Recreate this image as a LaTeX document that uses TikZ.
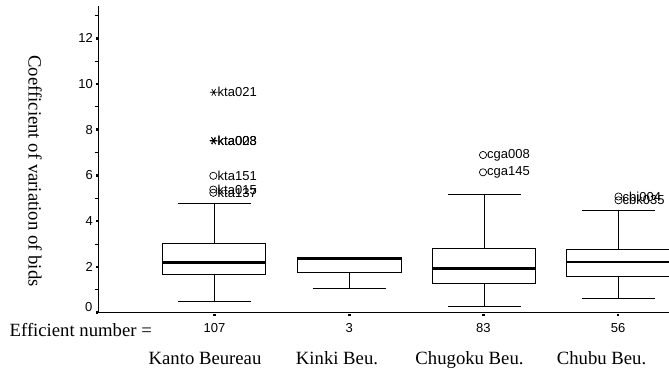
\documentclass[tikz,border=0pt]{standalone}
\usepackage{fontspec}
\setmainfont{Liberation Serif}
\newfontfamily\arialf{Liberation Sans}
\begin{document}
\begin{tikzpicture}[x=1pt,y=-1pt,
  sanslab/.style={font=\arialf\fontsize{13}{15}\selectfont, inner sep=0pt},
  seriflab/.style={font=\fontsize{18.7}{22}\selectfont, inner sep=0pt},
  boxline/.style={draw=black, line width=0.8pt},
  medline/.style={line width=2.8pt},
  axisline/.style={line width=1.3pt},
  outc/.style={line width=0.7pt}]
\useasboundingbox (0,0) rectangle (669,369);
% axes
\draw[axisline] (98.3,6) -- (98.3,312.8) -- (669,312.8);
\foreach \v in {0,2,...,12}{
  \pgfmathsetmacro\yy{312.5-22.85*\v}
  \fill (95.6,\yy-1.3) rectangle (98.3,\yy+1.3);
}
\foreach \v in {1,3,...,13}{
  \pgfmathsetmacro\yy{312.5-22.85*\v}
  \draw[line width=0.8pt] (94.5,\yy) -- (98.3,\yy);
}
\foreach \v/\n in {2/t2,4/t4,6/t6,8/t8,10/t10,12/t12}{
  \pgfmathsetmacro\yy{312.5-22.85*\v}
  \node[sanslab, anchor=east] (\n) at (93,\yy) {\v};
}
\node[sanslab, anchor=east] (t0) at (92.5,307) {0};
% category ticks
\foreach \cx in {214.5,349.3,483.5,618.2}{
  \fill (\cx-1.2,313.5) rectangle (\cx+1.2,316.3);
}
% y label
\node[seriflab, rotate=-90] (ylab) at (35,171) {Coefficient of variation of bids};
% boxes: center, q1, q3, median, upper cap, lower cap
\foreach \c/\qa/\qb/\md/\up/\lo in {214/274.7/243.3/262.3/203.7/301.7,
                                    349.2/272.7/257.3/258.2/257.3/288.3,
                                    484/283.3/248.3/268.2/194.3/306,
                                    618.3/276.7/249.3/262/210.7/298}{
  \draw[boxline] (\c,\up) -- (\c,\qb);
  \draw[boxline] (\c,\qa) -- (\c,\lo);
  \draw[boxline] (\c-36.5,\up) -- (\c+36.5,\up);
  \draw[boxline] (\c-36.5,\lo) -- (\c+36.5,\lo);
  \draw[boxline, fill=white] (\c-51.7,\qb) rectangle (\c+51.7,\qa);
  \draw[medline] (\c-51.7,\md) -- (\c+51.7,\md);
}
% star outliers
\foreach \sx/\sy in {213.7/92.3, 213.3/140.4, 213.9/141.0}{
  \draw[outc] (\sx-3.8,\sy) -- (\sx+3.8,\sy)
              (\sx-1.9,\sy-3.3) -- (\sx+1.9,\sy+3.3)
              (\sx+1.9,\sy-3.3) -- (\sx-1.9,\sy+3.3);
}
% circle outliers
\foreach \sx/\sy in {213.3/175.8, 213.3/189.5, 213.3/192.8, 483/155, 483/172.3, 618.5/196.5, 618.5/200.3}{
  \draw[outc] (\sx,\sy) circle (3.6);
}
\node[sanslab, anchor=west] (o1) at (217.5,92.3) {kta021};
\node[sanslab, anchor=west] (o2) at (217.5,140.4) {kta028};
\node[sanslab, anchor=west] (o3) at (217.5,140.9) {kta003};
\node[sanslab, anchor=west] (o4) at (217.5,175.8) {kta151};
\node[sanslab, anchor=west] (o5) at (217.5,189.5) {kta015};
\node[sanslab, anchor=west] (o6) at (217.5,192.8) {kta137};
\node[sanslab, anchor=west] (o7) at (487,155) {cga008};
\node[sanslab, anchor=west] (o8) at (487,172.3) {cga145};
\node[sanslab, anchor=west] (o9) at (622.5,196.5) {cbi004};
\node[sanslab, anchor=west] (o10) at (622.5,200.3) {cbk035};
% efficient numbers
\node[seriflab, anchor=base west] (eff) at (9.5,336) {Efficient number =};
\node[sanslab, anchor=base] (n1) at (214.5,332) {107};
\node[sanslab, anchor=base] (n2) at (349.3,332) {3};
\node[sanslab, anchor=base] (n3) at (483.3,332) {83};
\node[sanslab, anchor=base] (n4) at (618,332) {56};
% category names
\node[seriflab, anchor=base] (c1) at (205,364) {Kanto Beureau};
\node[seriflab, anchor=base] (c2) at (337,364) {Kinki Beu.};
\node[seriflab, anchor=base] (c3) at (469.5,364) {Chugoku Beu.};
\node[seriflab, anchor=base] (c4) at (601.5,364) {Chubu Beu.};
\end{tikzpicture}
\end{document}
